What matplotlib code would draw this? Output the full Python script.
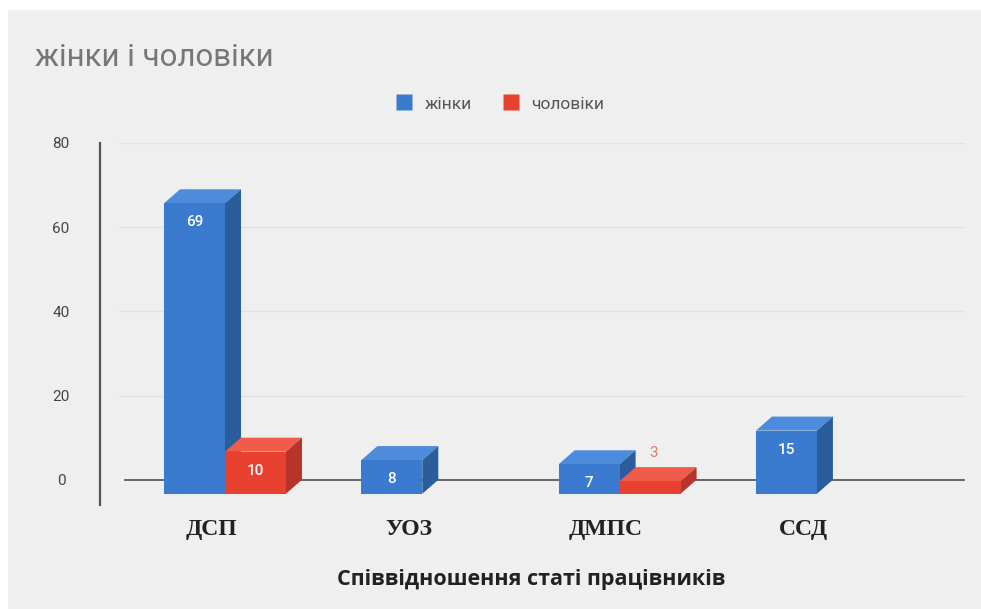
import matplotlib
matplotlib.use("Agg")
import matplotlib.pyplot as plt
from matplotlib.patches import Rectangle, Polygon
from matplotlib.lines import Line2D

# Data
categories = ["ДСП", "УОЗ", "ДМПС", "ССД"]
series_names = ["жінки", "чоловіки"]
women = [69, 8, 7, 15]
men = [10, 0, 3, 0]
y_ticks = [0, 20, 40, 60, 80]

title = "жінки і чоловіки"
x_title = "Співвідношення статі працівників"

# Style
BG = "#efefef"
palette = {
    "жінки": {"front": "#3a7bcf", "top": "#4d8cdc", "side": "#2b5c9c", "label": "#3a7bcf"},
    "чоловіки": {"front": "#e8412f", "top": "#f05c4a", "side": "#b8342a", "label": "#e27c70"},
}
DEPTH_X, DEPTH_Y = 16, 14          # 3D depth in pixels
BAR_W = 0.309                      # width of one bar in category units

W, H, DPI = 981, 609, 100
fig = plt.figure(figsize=(W / DPI, H / DPI), dpi=DPI, facecolor="white")
fig.patches.append(Rectangle((8 / W, 0), 1, (H - 10) / H, transform=fig.transFigure,
                             facecolor=BG, edgecolor="none", zorder=-10))

ax = fig.add_axes([100 / W, (H - 505) / H, 865 / W, 362 / H])
ax.set_facecolor("none")
ax.set_xlim(-0.7147, 3.6695)
ax.set_ylim(-6, 80)

# pixels per data unit
p0 = ax.transData.transform((0, 0))
p1 = ax.transData.transform((1, 1))
ppx = p1[0] - p0[0]
ppy = p1[1] - p0[1]
dx = DEPTH_X / ppx
dy = DEPTH_Y / ppy

# Grid and zero line
for t in y_ticks[1:]:
    ax.axhline(t, xmin=0.023, xmax=1.0, color="#e2e2e2", lw=1.0, zorder=1)
ax.axhline(0, xmin=0.029, xmax=0.999, color="#666666", lw=1.4, zorder=2)

for s in ["top", "right", "bottom"]:
    ax.spines[s].set_visible(False)
ax.spines["left"].set_color("#555555")
ax.spines["left"].set_linewidth(1.6)

ax.set_yticks(y_ticks)
ax.set_yticklabels([str(t) for t in y_ticks], fontsize=11, color="#444444",
                   fontfamily="Roboto", ha="center")
ax.tick_params(axis="y", length=0, pad=28)
ax.tick_params(axis="x", length=0)


def draw_box(x_back_left, value, colors, z):
    """Draw one 3D column whose back face spans [x, x+BAR_W] x [0, value]."""
    xl, xr = x_back_left, x_back_left + BAR_W
    fl, fr = xl - dx, xr - dx          # front face (shifted left/down)
    fb, ft = -dy, value - dy
    top = Polygon([(fl, ft), (fr, ft), (xr, value), (xl, value)], closed=True,
                  facecolor=colors["top"], edgecolor="none", zorder=z)
    side = Polygon([(fr, fb), (fr, ft), (xr, value), (xr, 0)], closed=True,
                   facecolor=colors["side"], edgecolor="none", zorder=z)
    front = Rectangle((fl, fb), BAR_W, value, facecolor=colors["front"],
                      edgecolor="none", zorder=z + 0.1)
    for p in (top, side, front):
        ax.add_patch(p)
    return (fl + fr) / 2, ft


for i, cat in enumerate(categories):
    for j, (name, vals) in enumerate(zip(series_names, [women, men])):
        v = vals[i]
        if v == 0:
            continue
        x_left = i - BAR_W + j * BAR_W
        z = 5 + i * 2 + j
        cx, ft = draw_box(x_left, v, palette[name], z)
        if v * ppy > 20:
            ax.annotate(str(v), (cx, ft), xytext=(0, -19), textcoords="offset pixels",
                        ha="center", va="center", color="white", fontsize=11,
                        fontweight="medium", fontfamily="Roboto", zorder=z + 1)
        else:
            ax.annotate(str(v), (cx, v), xytext=(3, 14), textcoords="offset pixels",
                        ha="center", va="center", color=palette[name]["label"],
                        fontsize=11, fontfamily="Roboto", zorder=z + 1)

# Category labels
ax.set_xticks([i - 0.15 for i in range(len(categories))])
ax.set_xticklabels(categories, fontfamily="Liberation Serif", fontweight="bold",
                   fontsize=17, color="#222222")
ax.tick_params(axis="x", pad=10)

ax.set_xlabel(x_title, fontfamily="Open Sans", fontweight="bold", fontsize=15.5,
              color="#222222")
ax.xaxis.label.set_va("center")
ax.xaxis.set_label_coords((531 - 100) / 865, (505 - 579) / 362)

# Title
fig.text(35 / W, 1 - 58 / H, title, fontsize=22.5, color="#777777",
         fontfamily="Roboto", va="center", ha="left")

# Legend
handles = [Line2D([], [], marker="s", linestyle="none", markersize=11,
                  markerfacecolor=palette[n]["front"], markeredgecolor="none")
           for n in series_names]
fig.legend(handles, series_names, loc="center", bbox_to_anchor=(500 / W, 1 - 104 / H),
           ncol=2, frameon=False, prop={"family": "Roboto", "size": 12.5},
           labelcolor="#555555", handlelength=1.0, handletextpad=0.7, columnspacing=1.7)

fig.savefig("out.png", dpi=DPI, facecolor="white")
